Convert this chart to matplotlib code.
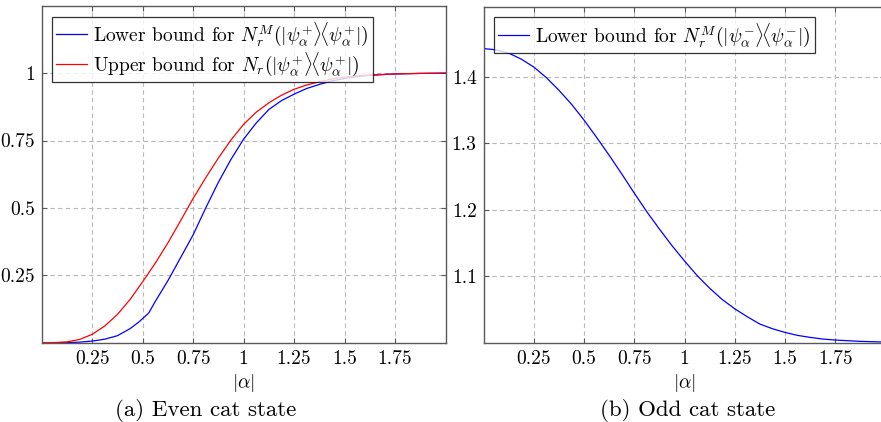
import numpy as np
import matplotlib
matplotlib.use("Agg")
import matplotlib.pyplot as plt

plt.rcParams['font.family'] = 'serif'
plt.rcParams['font.serif'] = ['cmr10', 'DejaVu Serif']
plt.rcParams['mathtext.fontset'] = 'cm'
plt.rcParams['axes.formatter.use_mathtext'] = True

# even cat state
alpha_even = [0.0, 0.0625, 0.125, 0.1875, 0.25, 0.3125, 0.375, 0.4375, 0.48, 0.53,
              0.5625, 0.625, 0.6875, 0.75, 0.8125, 0.875, 0.9375, 1.0, 1.0625,
              1.125, 1.1875, 1.25, 1.3125, 1.375, 1.4375, 1.5, 1.5625, 1.625,
              1.75, 1.875, 2.0]
lower_even = [0.0, 0.0, 0.0005, 0.002, 0.006, 0.013, 0.026, 0.052, 0.076, 0.11,
              0.153, 0.23, 0.315, 0.40, 0.50, 0.595, 0.68, 0.755, 0.815,
              0.865, 0.898, 0.922, 0.943, 0.958, 0.971, 0.98, 0.987, 0.992,
              0.997, 0.999, 1.0]

alpha_up = [0.0, 0.0625, 0.125, 0.1875, 0.25, 0.3125, 0.375, 0.4375, 0.5, 0.5625,
            0.625, 0.6875, 0.75, 0.8125, 0.875, 0.9375, 1.0, 1.0625, 1.125,
            1.1875, 1.25, 1.3125, 1.375, 1.4375, 1.5, 1.5625, 1.625, 1.6875,
            1.75, 1.875, 2.0]
upper_even = [0.0, 0.0005, 0.003, 0.012, 0.031, 0.062, 0.105, 0.16, 0.226, 0.295,
              0.37, 0.452, 0.535, 0.612, 0.685, 0.752, 0.81, 0.855, 0.89,
              0.918, 0.94, 0.956, 0.968, 0.978, 0.985, 0.99, 0.993, 0.995,
              0.997, 0.999, 1.0]

# odd cat state
alpha_odd = [0.0, 0.0625, 0.125, 0.1875, 0.25, 0.3125, 0.375, 0.4375, 0.5, 0.5625,
             0.625, 0.6875, 0.75, 0.8125, 0.875, 0.9375, 1.0, 1.0625, 1.125,
             1.1875, 1.25, 1.3125, 1.375, 1.4375, 1.5, 1.5625, 1.625, 1.6875,
             1.75, 1.8125, 1.875, 2.0]
lower_odd = [1.443, 1.441, 1.436, 1.427, 1.415, 1.399, 1.380, 1.359, 1.335, 1.309,
             1.282, 1.254, 1.225, 1.197, 1.171, 1.146, 1.123, 1.101, 1.082,
             1.065, 1.051, 1.039, 1.028, 1.021, 1.0155, 1.011, 1.008, 1.0055,
             1.004, 1.003, 1.002, 1.001]

xticks = [0.25, 0.5, 0.75, 1, 1.25, 1.5, 1.75]
xticklabels = ["0.25", "0.5", "0.75", "1", "1.25", "1.5", "1.75"]
yticks_even = [0.25, 0.5, 0.75, 1]
yticklabels_even = ["0.25", "0.5", "0.75", "1"]
yticks_odd = [1.1, 1.2, 1.3, 1.4]
yticklabels_odd = ["1.1", "1.2", "1.3", "1.4"]

lab_lower_even = r"Lower bound for $N_r^M(|\psi_\alpha^{+}\rangle\!\langle\psi_\alpha^{+}|)$"
lab_upper_even = r"Upper bound for $N_r(|\psi_\alpha^{+}\rangle\!\langle\psi_\alpha^{+}|)$"
lab_lower_odd = r"Lower bound for $N_r^M(|\psi_\alpha^{-}\rangle\!\langle\psi_\alpha^{-}|)$"

W, H = 881, 422
FS = 14
fig = plt.figure(figsize=(W / 100, H / 100), dpi=100)

def style(ax, yt, ytl):
	ax.set_xlim(0, 2)
	ax.set_xticks(xticks)
	ax.set_xticklabels(xticklabels)
	ax.set_yticks(yt)
	ax.set_yticklabels(ytl)
	ax.grid(True, color='0.72', linestyle=(0, (4, 3)), linewidth=0.8)
	ax.tick_params(direction='in', length=3.5, width=0.8, color='0.35',
	               top=True, right=True, labelsize=FS, pad=5)
	for s in ax.spines.values():
		s.set_color('0.35')
		s.set_linewidth(1.0)
	ax.set_xlabel(r"$|\alpha|$", fontsize=FS, labelpad=3)

ax1 = fig.add_axes([41.7 / W, (H - 342.7) / H, 403.8 / W, 336.7 / H])
ax1.plot(alpha_even, lower_even, color='blue', lw=0.9, label=lab_lower_even)
ax1.plot(alpha_up, upper_even, color='red', lw=0.9, label=lab_upper_even)
ax1.set_ylim(0, 1.249)
style(ax1, yticks_even, yticklabels_even)
leg = ax1.legend(loc='upper left', fontsize=FS, frameon=True, fancybox=False,
                 edgecolor='black', handlelength=1.6, handletextpad=0.3,
                 borderpad=0.2, labelspacing=0.1, borderaxespad=0.55)
leg.get_frame().set_linewidth(0.9)

ax2 = fig.add_axes([483.7 / W, (H - 342.7) / H, 401.8 / W, 336.0 / H])
ax2.plot(alpha_odd, lower_odd, color='blue', lw=0.9, label=lab_lower_odd)
ax2.set_ylim(1.0, 1.506)
style(ax2, yticks_odd, yticklabels_odd)
leg2 = ax2.legend(loc='upper left', fontsize=FS, frameon=True, fancybox=False,
                  edgecolor='black', handlelength=1.6, handletextpad=0.3,
                  borderpad=0.2, borderaxespad=0.55)
leg2.get_frame().set_linewidth(0.9)

fig.text(205.5 / W, 1 - 410 / H, "(a) Even cat state", ha='center', va='center', fontsize=16.5)
fig.text(687.5 / W, 1 - 410 / H, "(b) Odd cat state", ha='center', va='center', fontsize=16.5)

plt.savefig("out.png", dpi=100)
